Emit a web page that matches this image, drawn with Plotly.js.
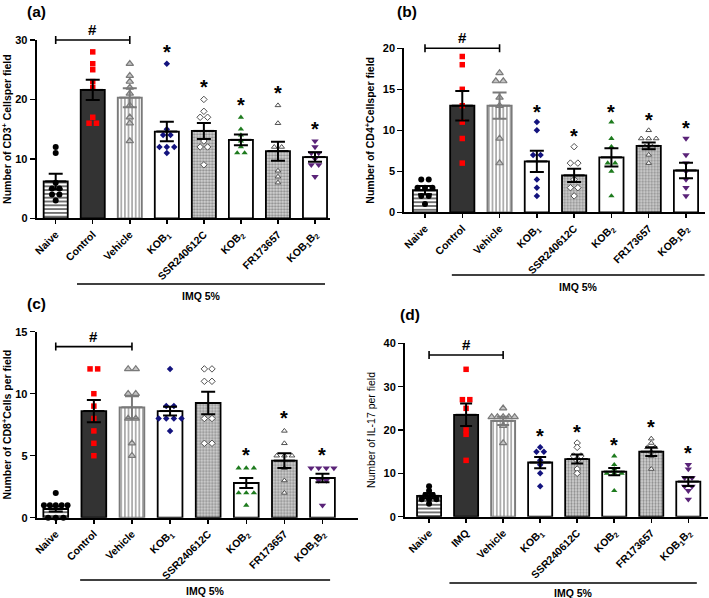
<!DOCTYPE html>
<html>
<head>
<meta charset="utf-8">
<script src="https://cdn.plot.ly/plotly-3.0.1.min.js"></script>
<style>html,body{margin:0;padding:0;background:#fff}#chart{width:709px;height:598px}</style>
</head>
<body>
<div id="chart"></div>
<script>
// ---------------- DATA ----------------
const categories = ['Naive','Control','Vehicle','KOB<sub>1</sub>','SSR240612C','KOB<sub>2</sub>','FR173657','KOB<sub>1</sub>B<sub>2</sub>'];
const categoriesIL17 = ['Naive','IMQ','Vehicle','KOB<sub>1</sub>','SSR240612C','KOB<sub>2</sub>','FR173657','KOB<sub>1</sub>B<sub>2</sub>'];

// (a) CD3+
const cd3_naive   = [12,11,6,5,5,4,4,3];
const cd3_control = [28,26,25,23,22,17,16,16];
const cd3_vehicle = [26,24,23,22,21,19,17,16,13];
const cd3_kob1    = [26,15,14,14,12,12,12,11];
const cd3_ssr     = [20,18,17,17,13,12,12,9];
const cd3_kob2    = [17,15,14,13,12,11,11];
const cd3_fr      = [19,16,12,12,8,7,6];
const cd3_kob1b2  = [13,12,11,11,10,9,9,7];
const cd3_mean    = [6.2,21.6,20.3,14.6,14.7,13.2,11.3,10.3];
const cd3_sem     = [1.3,1.7,1.6,1.65,1.35,0.9,1.6,0.8];
const cd3_sig     = [0,0,0,1,1,1,1,1];

// (b) CD4+
const cd4_naive   = [4,4,3,3,3,2,2,1];
const cd4_control = [19,18,15,13,11,9,6];
const cd4_vehicle = [17,16,16,14,13,9,6];
const cd4_kob1    = [11,10,7,7,4,3,2];
const cd4_ssr     = [8,6,6,4,3,3,2];
const cd4_kob2    = [11,9,8,6,6,5,2];
const cd4_fr      = [10,9,9,9,8,8,7,6];
const cd4_kob1b2  = [9,7,6,5,4,3,2];
const cd4_mean    = [2.7,13.0,13.0,6.2,4.5,6.7,8.1,5.1];
const cd4_sem     = [0.5,1.8,1.6,1.3,0.8,1.1,0.4,0.95];
const cd4_sig     = [0,0,0,1,1,1,1,1];

// (c) CD8+
const cd8_naive   = [2,1,1,1,1,1,0,0,0];
const cd8_control = [12,12,10,9,8,7,6,5];
const cd8_vehicle = [12,12,10,10,8,8,6,5];
const cd8_kob1    = [12,9,9,8,8,8,8,7];
const cd8_ssr     = [12,12,11,11,8,8,6,6];
const cd8_kob2    = [4,4,4,2,2,2,1];
const cd8_fr      = [7,6,5,5,5,4,3,2];
const cd8_kob1b2  = [4,4,4,4,3,3,1];
const cd8_mean    = [0.7,8.6,8.9,8.6,9.25,2.8,4.6,3.2];
const cd8_sem     = [0.2,0.9,0.9,0.35,0.9,0.4,0.6,0.35];
const cd8_sig     = [0,0,0,0,0,1,1,1];

// (d) IL-17
const il17_naive   = [7,6,5,5,4,4,4,3];
const il17_imq     = [34,27,27,25,20,19,13];
const il17_vehicle = [25,23,23,23,23,23,21,17];
const il17_kob1    = [16,15,15,13,12,10,7];
const il17_ssr     = [17,16,14,14,13,11,10];
const il17_kob2    = [14,12,11,10,10,10,6];
const il17_fr      = [18,17,16,16,15,14,11];
const il17_kob1b2  = [12,11,9,9,7,7,6,4];
const il17_mean    = [4.8,23.5,22.1,12.5,13.3,10.4,15.0,8.1];
const il17_sem     = [0.6,2.6,0.95,1.3,1.05,0.85,1.0,1.0];
const il17_sig     = [0,0,0,1,1,1,1,1];

const groupLabel = 'IMQ 5%';

// ---------------- STYLES / LAYOUT ----------------
const FONT = 'Liberation Sans, Arial, sans-serif';
const W = 709, H = 598;

const barStyle = [
  {color:'#ffffff', line:'#000000', pattern:{shape:'-', bgcolor:'#ffffff', fgcolor:'#000000', size:3.8, solidity:0.28}},
  {color:'#333333', line:'#000000', pattern:null},
  {color:'#ffffff', line:'#7a7a7a', pattern:{shape:'|', bgcolor:'#ffffff', fgcolor:'#8a8a8a', size:3.6, solidity:0.35}},
  {color:'#ffffff', line:'#000000', pattern:null},
  {color:'#d0d0d0', line:'#000000', pattern:{shape:'.', bgcolor:'#d6d6d6', fgcolor:'#8c8c8c', size:3, solidity:0.45}},
  {color:'#ffffff', line:'#000000', pattern:null},
  {color:'#d0d0d0', line:'#000000', pattern:{shape:'.', bgcolor:'#d6d6d6', fgcolor:'#8c8c8c', size:3, solidity:0.45}},
  {color:'#ffffff', line:'#000000', pattern:null}
];
const errColor = ['#000','#000','#7a7a7a','#000','#000','#000','#000','#000'];
const ptStyle = [
  {symbol:'circle', color:'#000000', size:6, lc:'#000000', lw:0},
  {symbol:'square', color:'#ff0000', size:5.5, lc:'#ff0000', lw:0},
  {symbol:'triangle-up', color:'#c4c4c4', size:6.5, lc:'#7a7a7a', lw:1.2},
  {symbol:'diamond', color:'#13137e', size:5, lc:'#13137e', lw:0},
  {symbol:'diamond', color:'#ffffff', size:5, lc:'#505050', lw:1},
  {symbol:'triangle-up', color:'#1e7b1e', size:5.5, lc:'#1e7b1e', lw:0},
  {symbol:'triangle-up', color:'#ffffff', size:5, lc:'#505050', lw:1},
  {symbol:'triangle-down', color:'#5a2378', size:6.5, lc:'#5a2378', lw:0}
];

const panels = [
  {label:'(a)', lx:25, ly:12, xa:'x', ya:'y', xd:[36.7,330], yd:[40,218.3], xr:[-0.513,7.405], ymax:30, dtick:10,
   cats:categories, pts:[cd3_naive,cd3_control,cd3_vehicle,cd3_kob1,cd3_ssr,cd3_kob2,cd3_fr,cd3_kob1b2],
   mean:cd3_mean, sem:cd3_sem, sig:cd3_sig, title:'Number of CD3<sup>+</sup> Cellsper field', tw:'bold',
   bracket:30, imq:{x0:0.575,x1:7.27,ly:284,ty:296}},
  {label:'(b)', lx:395, ly:12, xa:'x2', ya:'y2', xd:[404.3,705], yd:[48.3,212.3], xr:[-0.555,7.51], ymax:20, dtick:5,
   cats:categories, pts:[cd4_naive,cd4_control,cd4_vehicle,cd4_kob1,cd4_ssr,cd4_kob2,cd4_fr,cd4_kob1b2],
   mean:cd4_mean, sem:cd4_sem, sig:cd4_sig, title:'Number of CD4<sup>+</sup>Cellsper field', tw:'bold',
   bracket:20, imq:{x0:0.72,x1:7.5,ly:275,ty:287}},
  {label:'(c)', lx:25, ly:303, xa:'x3', ya:'y3', xd:[36.7,358.3], yd:[331.7,517.7], xr:[-0.5,7.94], ymax:15, dtick:5,
   cats:categories, pts:[cd8_naive,cd8_control,cd8_vehicle,cd8_kob1,cd8_ssr,cd8_kob2,cd8_fr,cd8_kob1b2],
   mean:cd8_mean, sem:cd8_sem, sig:cd8_sig, title:'Number of CD8<sup>+</sup>Cells per field', tw:'bold',
   bracket:13.8, imq:{x0:0.64,x1:7.2,ly:580,ty:591}},
  {label:'(d)', lx:398, ly:314, xa:'x4', ya:'y4', xd:[405,708.3], yd:[343.3,516.7], xr:[-0.65,7.54], ymax:40, dtick:10,
   cats:categoriesIL17, pts:[il17_naive,il17_imq,il17_vehicle,il17_kob1,il17_ssr,il17_kob2,il17_fr,il17_kob1b2],
   mean:il17_mean, sem:il17_sem, sig:il17_sig, title:'Number of IL-17 per field', tw:'normal',
   bracket:37.3, imq:{x0:0.55,x1:7.23,ly:583,ty:593}}
];

function jitter(vals, step){
  const counts = {}; vals.forEach(v => counts[v] = (counts[v]||0)+1);
  const seen = {};
  return vals.map(v => {
    const n = counts[v]; const k = (seen[v] = (seen[v]||0)); seen[v]++;
    const s = Math.min(step, 0.62/Math.max(n-1,1));
    return (k-(n-1)/2)*s;
  });
}

const traces = [];
const layout = {
  width:W, height:H, margin:{l:0,r:0,t:0,b:0}, showlegend:false, barmode:'overlay',
  paper_bgcolor:'#fff', plot_bgcolor:'#fff',
  font:{family:FONT, color:'#000'},
  annotations:[], shapes:[]
};

const idx = [0,1,2,3,4,5,6,7];

panels.forEach((p, pi) => {
  const axN = pi===0 ? '' : String(pi+1);
  const ydom = [1 - p.yd[1]/H, 1 - p.yd[0]/H];
  const xdom = [p.xd[0]/W, p.xd[1]/W];
  layout['xaxis'+axN] = {
    domain:xdom, anchor:p.ya, range:p.xr, tickmode:'array', tickvals:idx, ticktext:p.cats,
    tickangle:-45, ticks:'outside', ticklen:4, tickwidth:1.5, tickcolor:'#000',
    showline:true, linewidth:2, linecolor:'#000', showgrid:false, zeroline:false,
    tickfont:{family:FONT, size:10.5, weight:'bold', color:'#000'}, fixedrange:true
  };
  const tv = []; for (let v=0; v<=p.ymax+1e-9; v+=p.dtick) tv.push(v);
  layout['yaxis'+axN] = {
    domain:ydom, anchor:p.xa, range:[0,p.ymax], tickmode:'array', tickvals:tv,
    ticks:'outside', ticklen:5, tickwidth:1.5, tickcolor:'#000',
    showline:true, linewidth:2, linecolor:'#000', showgrid:false, zeroline:false,
    tickfont:{family:FONT, size:11, weight:'bold', color:'#000'},
    title:{text:p.title, font:{family:FONT, size:10.5, weight:p.tw, color:'#000'}, standoff:6}, fixedrange:true
  };

  // bars (one trace per group so each keeps its own fill pattern)
  idx.forEach(g => {
    const bs = barStyle[g];
    const marker = {color:bs.color, line:{color:bs.line, width:1.8}};
    if (bs.pattern) marker.pattern = Object.assign({fillmode:'replace'}, bs.pattern);
    traces.push({type:'bar', x:[g], y:[p.mean[g]], width:0.65, xaxis:p.xa, yaxis:p.ya, hoverinfo:'skip', marker:marker});
  });
  // points
  p.pts.forEach((vals, g) => {
    const off = jitter(vals, 0.2);
    const s = ptStyle[g];
    traces.push({
      type:'scatter', mode:'markers', xaxis:p.xa, yaxis:p.ya, cliponaxis:false, hoverinfo:'skip',
      x:vals.map((v,i)=>g+off[i]), y:vals,
      marker:{symbol:s.symbol, color:s.color, size:s.size, line:{color:s.lc, width:s.lw}}
    });
  });
  // mean + SEM
  idx.forEach(g => {
    traces.push({
      type:'scatter', mode:'markers', xaxis:p.xa, yaxis:p.ya, cliponaxis:false, hoverinfo:'skip',
      x:[g], y:[p.mean[g]],
      marker:{symbol:'line-ew', size:15, color:errColor[g], line:{color:errColor[g], width:2}},
      error_y:{type:'data', array:[p.sem[g]], visible:true, color:errColor[g], thickness:2, width:pi===3?6:7}
    });
  });

  // significance stars
  idx.forEach(g => {
    if (!p.sig[g]) return;
    const top = Math.max(...p.pts[g]);
    layout.annotations.push({
      xref:p.xa, yref:p.ya, x:g, y:top + 0.095*p.ymax, text:'*', showarrow:false,
      font:{family:FONT, size:20, weight:'bold', color:'#000'}, xanchor:'center', yanchor:'middle', yshift:-5
    });
  });

  // bracket with #
  const byp = ydom[0] + (p.bracket/p.ymax)*(ydom[1]-ydom[0]);
  layout.shapes.push({type:'line', xref:p.xa, yref:'paper', x0:0, x1:2, y0:byp, y1:byp, line:{color:'#000', width:1.6}});
  [0,2].forEach(xx => layout.shapes.push({type:'line', xref:p.xa, yref:'paper', x0:xx, x1:xx,
    ysizemode:'pixel', yanchor:byp, y0:-4, y1:4, line:{color:'#000', width:1.6}}));
  layout.annotations.push({xref:p.xa, yref:'paper', x:1, y:byp, text:'#', showarrow:false,
    font:{family:FONT, size:15, weight:'bold', color:'#000'}, xanchor:'center', yanchor:'bottom', yshift:0});

  // IMQ 5% group line
  const ly = 1 - p.imq.ly/H;
  layout.shapes.push({type:'line', xref:p.xa, yref:'paper', x0:p.imq.x0, x1:p.imq.x1, y0:ly, y1:ly, line:{color:'#000', width:1.5}});
  layout.annotations.push({xref:p.xa, yref:'paper', x:(p.imq.x0+p.imq.x1)/2, y:1 - p.imq.ty/H, text:groupLabel,
    showarrow:false, font:{family:FONT, size:10.5, weight:'bold', color:'#000'}, xanchor:'center', yanchor:'middle'});

  // panel label
  layout.annotations.push({xref:'paper', yref:'paper', x:p.lx/W, y:1 - p.ly/H, text:p.label, showarrow:false,
    font:{family:FONT, size:15.5, weight:'bold', color:'#000'}, xanchor:'left', yanchor:'middle'});
});

Plotly.newPlot('chart', traces, layout, {staticPlot:true, displayModeBar:false});
</script>
</body>
</html>
